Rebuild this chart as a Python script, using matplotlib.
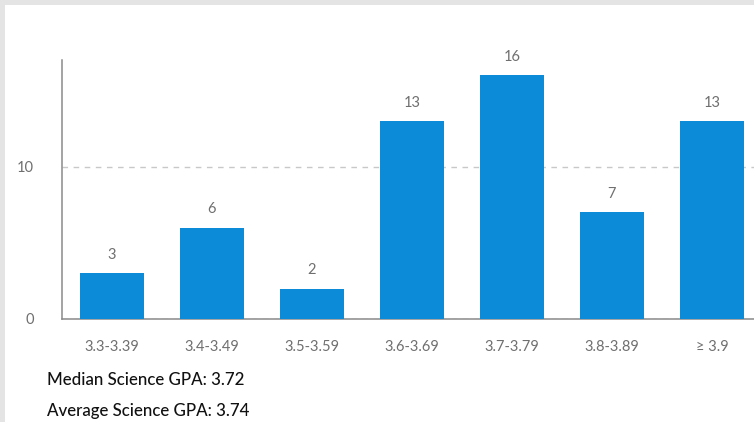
import matplotlib.pyplot as plt
from matplotlib.patches import Rectangle

plt.rcParams["font.family"] = ["Lato", "DejaVu Sans"]

# GPA bins and student counts
gpa_ranges = ["3.3-3.39", "3.4-3.49", "3.5-3.59", "3.6-3.69", "3.7-3.79", "3.8-3.89", "\u2265 3.9"]
counts = [3, 6, 2, 13, 16, 7, 13]
y_ticks = [0, 10]
median_gpa = 3.72
average_gpa = 3.74

bar_color = "#0c8cd8"
label_color = "#6f6f6f"

fig = plt.figure(figsize=(7.54, 4.22), dpi=100)
fig.patch.set_facecolor("#e4e4e4")
# white card behind everything
fig.patches.append(Rectangle((5 / 754, 0), 1, 1 - 5 / 422, transform=fig.transFigure,
                             facecolor="white", edgecolor="none", zorder=-10))

ax = fig.add_axes([62 / 754, 1 - 319 / 422, 692 / 754, 259 / 422])
ax.set_facecolor("none")

x = range(len(counts))
ax.bar(x, counts, width=0.64, color=bar_color, zorder=3)
for xi, c in zip(x, counts):
    ax.text(xi, c + 0.75, str(c), ha="center", va="bottom", fontsize=10.5, color=label_color)

ax.set_xlim(-0.5, 6.42)
ax.set_ylim(0, 17)
ax.set_xticks(list(x))
ax.set_xticklabels(gpa_ranges, fontsize=10.5, color=label_color)
ax.set_yticks(y_ticks)
ax.set_yticklabels([str(t) for t in y_ticks], fontsize=10.5, color=label_color)
ax.tick_params(length=0)
ax.tick_params(axis="x", pad=15)
ax.tick_params(axis="y", pad=20)

ax.yaxis.grid(True, linestyle=(0, (4, 4)), color="#c8c8c8", linewidth=1)
ax.set_axisbelow(True)
for s in ["top", "right"]:
    ax.spines[s].set_visible(False)
ax.spines["left"].set_color("#8a8a8a")
ax.spines["bottom"].set_color("#8a8a8a")
ax.spines["left"].set_linewidth(1.1)
ax.spines["bottom"].set_linewidth(1.1)

fig.text(47 / 754, 1 - 380 / 422, f"Median Science GPA: {median_gpa}", fontsize=12.2,
         color="#111111", va="center", fontweight="medium")
fig.text(47 / 754, 1 - 411 / 422, f"Average Science GPA: {average_gpa}", fontsize=12.2,
         color="#111111", va="center", fontweight="medium")

fig.savefig("out.png", dpi=100, facecolor=fig.get_facecolor())
